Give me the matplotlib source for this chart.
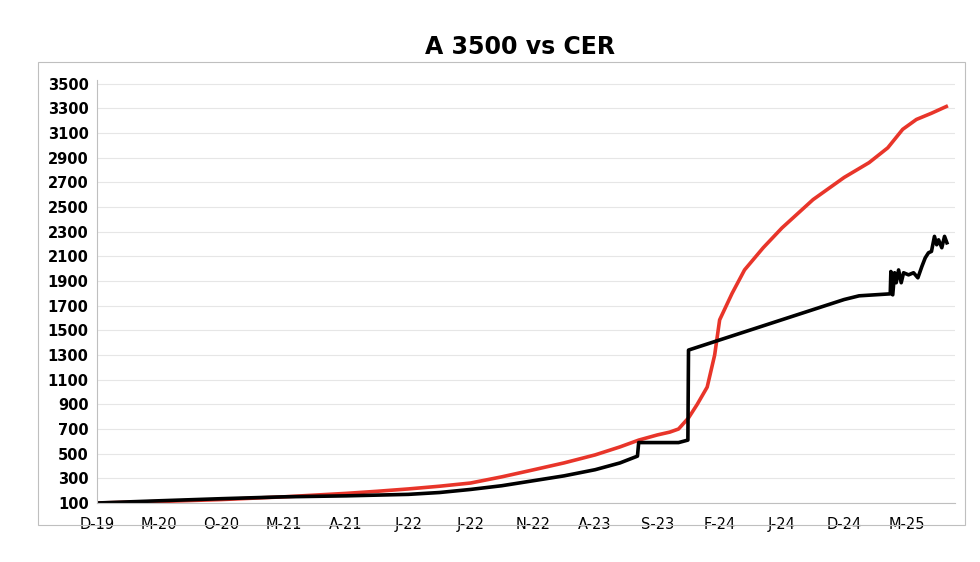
import matplotlib
matplotlib.use("Agg")
import matplotlib.pyplot as plt
from matplotlib.patches import Rectangle

tick_labels = ["D-19","M-20","O-20","M-21","A-21","J-22","J-22","N-22","A-23","S-23","F-24","J-24","D-24","M-25"]
tick_months = [0,5,10,15,20,25,30,35,40,45,50,55,60,65]

cer_m = [0,5,10,15,20,22.5,25,27.5,30,32.5,35,37.5,40,42,43.5,45,46,46.7,47.5,48.2,49,49.6,50,51,52,53.5,55,57.5,60,62,63.5,64.7,65.8,67,68.2]
cer_v = [100,112,128,150,178,195,214,236,262,312,368,425,490,555,610,652,675,700,790,900,1040,1300,1585,1800,1990,2170,2330,2560,2740,2860,2980,3130,3210,3260,3315]

a_m = [0,5,10,15,20,25,27.5,30,32.5,35,37.5,40,42,43.4,43.5,46.7,47.45,47.5,60,61.2,63.7,63.75,63.9,64.05,64.18,64.37,64.58,64.77,65.17,65.57,65.92,66.24,66.51,66.77,67.01,67.25,67.43,67.58,67.84,68.06,68.25]
a_v = [100,118,135,150,158,170,185,210,240,280,320,370,425,480,590,590,610,1340,1750,1780,1796,1977,1788,1967,1886,1990,1886,1967,1950,1967,1926,2018,2088,2129,2140,2262,2194,2234,2170,2262,2210]

fig = plt.figure(figsize=(9.8,5.62), dpi=100)
fig.patches.append(Rectangle((38/980, 1-525/562), 927/980, 463/562, transform=fig.transFigure,
                             fill=False, edgecolor="#bfbfbf", lw=0.8))
ax = fig.add_axes([97/980, 1-503/562, 858/980, 423/562])
ax.plot(cer_m, cer_v, color="#e8352a", lw=2.6)
ax.plot(a_m, a_v, color="black", lw=2.6)
ax.set_xlim(0, 68.9)
ax.set_ylim(100, 3530)
ax.set_yticks(range(100, 3501, 200))
ax.set_xticks(tick_months)
ax.set_xticklabels(tick_labels)
ax.grid(axis="y", color="#e6e6e6", lw=0.8)
ax.set_axisbelow(True)
for s in ["top","right"]:
    ax.spines[s].set_visible(False)
ax.spines["left"].set_color("#bfbfbf")
ax.spines["bottom"].set_color("#bfbfbf")
ax.tick_params(axis="both", length=0, labelsize=10.5)
ax.tick_params(axis="y", pad=6)
ax.tick_params(axis="x", pad=10)
for t in ax.get_yticklabels():
    t.set_fontweight("bold")
fig.text(520/980, 1-47/562, "A 3500 vs CER", ha="center", va="center", fontsize=17, fontweight="bold")
fig.savefig("out.png")
